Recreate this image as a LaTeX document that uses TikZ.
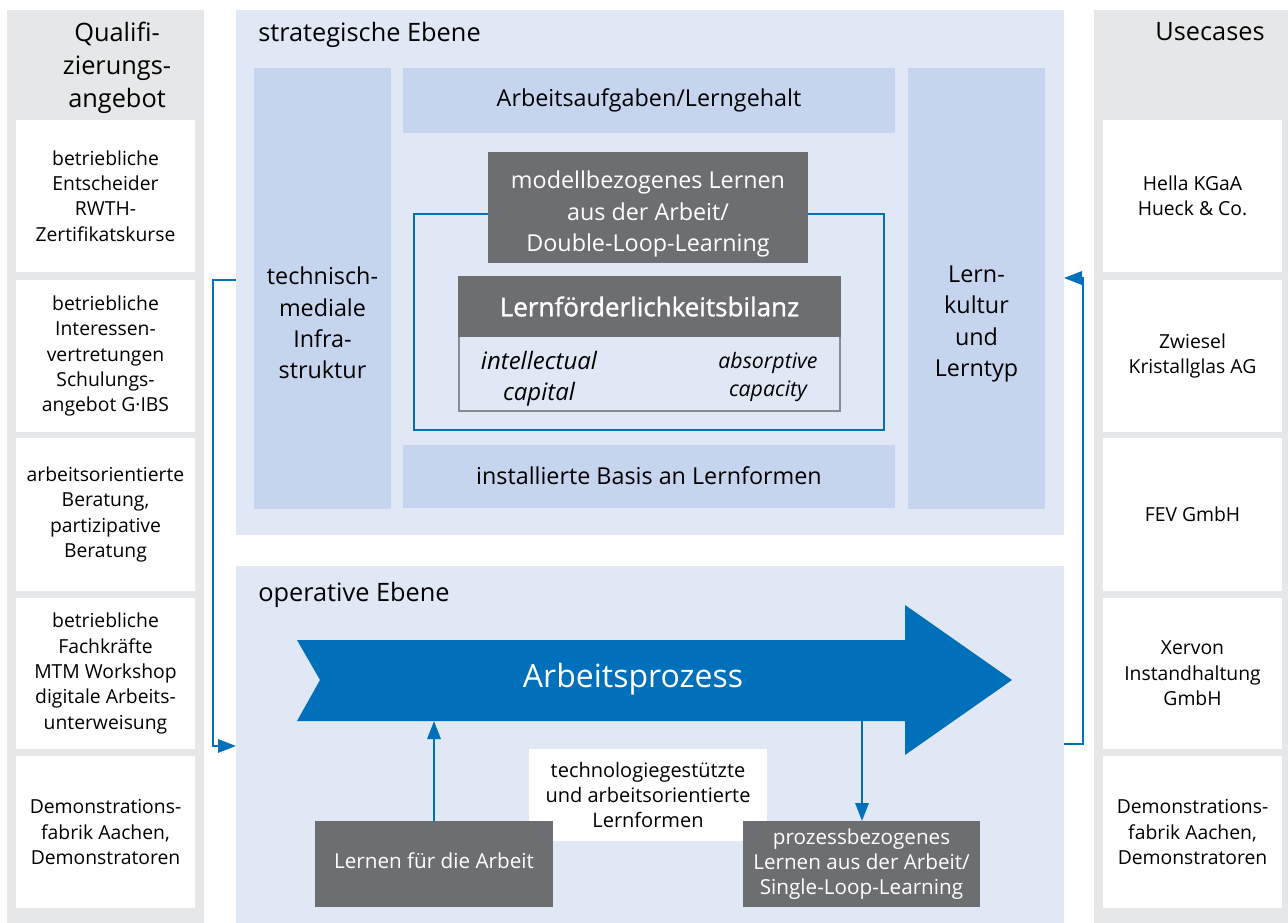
\documentclass[tikz,border=0pt]{standalone}
\usepackage{fontspec}
\setmainfont{Open Sans}
\newfontfamily\semibold[FakeBold=1.2]{Open Sans}
\usetikzlibrary{arrows.meta}

\definecolor{colgray}{HTML}{E6E7E8}
\definecolor{levelbg}{HTML}{E0E7F5}
\definecolor{fieldbg}{HTML}{C6D5EE}
\definecolor{darkbox}{HTML}{6D6E71}
\definecolor{flowblue}{HTML}{0070BA}
\definecolor{rimgray}{HTML}{8A8B8E}

\tikzset{
  % sizes are given in drawing units (0.75pt each)
  sz/.style 2 args={minimum width={(#1)*0.75pt}, minimum height={(#2)*0.75pt}},
  area/.style={inner sep=0pt, outer sep=0pt, align=center},
  column/.style={area, fill=colgray},
  card/.style={area, fill=white, font=\fontsize{14.5}{19}\selectfont},
  colhead/.style={align=center, inner sep=0pt, font=\fontsize{19}{24.5}\selectfont},
  level/.style={area, fill=levelbg},
  levelhead/.style={anchor=west, inner sep=0pt, font=\fontsize{19}{24}\selectfont},
  field/.style={area, fill=fieldbg, font=\fontsize{17.5}{23.5}\selectfont},
  fieldtext/.style={align=center, inner sep=0pt, font=\fontsize{17.5}{23.5}\selectfont},
  darkcard/.style={area, fill=darkbox, text=white, font=\fontsize{17.5}{23.5}\selectfont},
  lowcard/.style={area, fill=darkbox, text=white, font=\fontsize{15.5}{19}\selectfont},
  conn/.style={draw=flowblue, line width=1.6pt,
    -{Triangle[length=13.5pt, width=10pt]}},
}

\begin{document}
\begin{tikzpicture}[x=0.75pt, y=-0.75pt]
\useasboundingbox (0,0) rectangle (1288,923);

% side columns
\node[column, sz={197}{913}] (qcol) at (105.5,466.5) {};
\node[column, sz={194}{913}] (ucol) at (1191,466.5) {};
\node[colhead] (qhead) at (117,68) {Qualifi-\\zierungs-\\angebot};
\node[colhead] (uhead) at (1210,32) {Usecases};

% qualification offers
\node[card, sz={179}{152}] (q1) at (105.5,196) {betriebliche\\Entscheider\\RWTH-\\Zertifikatskurse};
\node[card, sz={179}{152}] (q2) at (105.5,356) {betriebliche\\Interessen-\\vertretungen\\Schulungs-\\angebot G·IBS};
\node[card, sz={179}{153}] (q3) at (105.5,514.5) {arbeitsorientierte\\Beratung,\\partizipative\\Beratung};
\node[card, sz={179}{151}] (q4) at (105.5,673.5) {betriebliche\\Fachkräfte\\MTM Workshop\\digitale Arbeits-\\unterweisung};
\node[card, sz={179}{152}] (q5) at (105.5,832) {Demonstrations-\\fabrik Aachen,\\Demonstratoren};

% use cases
\node[card, sz={179}{152}] (u1) at (1192.5,196) {Hella KGaA\\Hueck \& Co.};
\node[card, sz={179}{152}] (u2) at (1192.5,356) {Zwiesel\\Kristallglas AG};
\node[card, sz={179}{153}] (u3) at (1192.5,514.5) {FEV GmbH};
\node[card, sz={179}{151}] (u4) at (1192.5,673.5) {Xervon\\Instandhaltung\\GmbH};
\node[card, sz={179}{152}] (u5) at (1192.5,832) {Demonstrations-\\fabrik Aachen,\\Demonstratoren};

% strategic level
\node[level, sz={828}{525}] (strat) at (650,272.5) {};
\node[levelhead] (strathead) at (258,35) {strategische Ebene};
\node[field, sz={137}{441}] (infra) at (322.5,288.5) {};
\node[fieldtext] (infratext) at (322.5,323) {technisch-\\mediale\\Infra-\\struktur};
\node[field, sz={137}{441}] (kultur) at (976.5,288.5) {};
\node[fieldtext] (kulturtext) at (976.5,324) {Lern-\\kultur\\und\\Lerntyp};
\node[field, sz={492}{65}] (aufgaben) at (649,100.5) {Arbeitsaufgaben/Lerngehalt};
\node[field, sz={492}{63}] (basis) at (649,476) {installierte Basis an Lernformen};

% double loop frame
\node[area, draw=flowblue, line width=1.6pt, sz={470}{216}] (loop) at (649,322) {};
\node[darkcard, sz={320}{111}] (modell) at (648,207.5) {};
\node[align=center, inner sep=0pt, text=white, font=\fontsize{17.5}{23.5}\selectfont]
  (modelltext) at (648,214) {modellbezogenes Lernen\\aus der Arbeit/\\Double-Loop-Learning};

% balance box
\node[area, fill=levelbg, draw=rimgray, line width=1.6pt, sz={381}{134}] (bilanz) at (649.5,344) {};
\node[area, fill=darkbox, sz={383}{61}, text=white,
      font=\semibold\fontsize{19.5}{24}\selectfont] (bilanzhead) at (649.5,306.5) {Lernförderlichkeitsbilanz};
\node[align=center, inner sep=0pt, font=\itshape\fontsize{18}{23}\selectfont] (ic) at (539,379) {intellectual\\capital};
\node[align=center, inner sep=0pt, font=\itshape\fontsize{16}{21.5}\selectfont] (ac) at (768,377) {absorptive\\capacity};

% operative level
\node[level, sz={828}{357}] (oper) at (650,744.5) {};
\node[levelhead] (operhead) at (258,595) {operative Ebene};

\path[fill=flowblue] (297,640) -- (905,640) -- (905,605) -- (1012,680) -- (905,755)
  -- (905,721) -- (297,721) -- (320,680) -- cycle;
\node[inner sep=0pt, text=white, font=\fontsize{24}{28}\selectfont] (prozess) at (633,679) {Arbeitsprozess};
\coordinate (bodyleft) at (434,721);
\coordinate (bodyright) at (862,721);

\node[area, fill=white, font=\fontsize{15}{19}\selectfont, sz={238}{92}] (formen) at (648,795) {technologiegestützte\\und arbeitsorientierte\\Lernformen};
\node[lowcard, sz={238}{86}] (fuer) at (434,864) {};
\node[inner sep=0pt, text=white, font=\fontsize{15.5}{19}\selectfont] (fuertext) at (434,861) {Lernen für die Arbeit};
\node[lowcard, sz={237}{86}] (aus) at (861.5,864) {prozessbezogenes\\Lernen aus der Arbeit/\\Single-Loop-Learning};

\draw[conn] (fuer.north -| bodyleft) -- (bodyleft);
\draw[conn] (bodyright) -- (aus.north -| bodyright);

% feedback connectors between the levels
\coordinate (stratout) at (236,280);
\coordinate (operin) at (236,746);
\coordinate (operout) at (1064,744);
\coordinate (stratin) at (1064,278);
\draw[conn] (stratout) -- ++(-23,0) |- (operin);
\draw[conn] (operout) -- ++(19,0) |- (stratin);
\end{tikzpicture}
\end{document}
